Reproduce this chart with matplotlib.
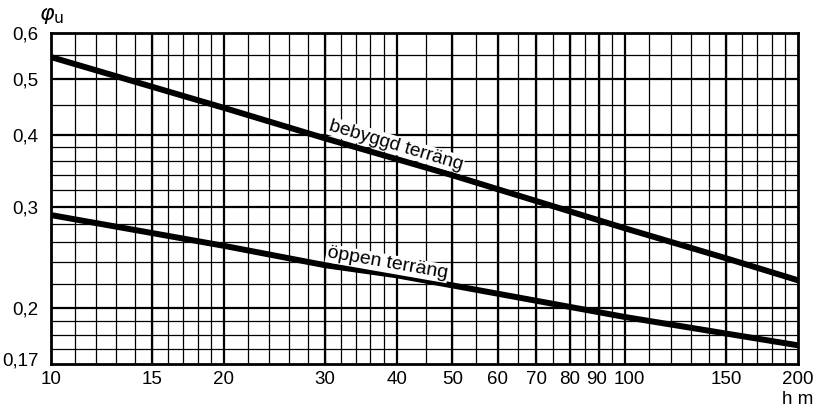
import matplotlib
matplotlib.use("Agg")
import matplotlib.pyplot as plt
from matplotlib.ticker import FixedLocator, NullFormatter, FixedFormatter
import matplotlib.transforms as mtransforms

# Data (h in m, phi_u)
h_vals = [10, 20, 30, 50, 100, 150, 200]
bebyggd = [0.545, 0.445, 0.394, 0.340, 0.275, 0.244, 0.2235]
oppen_h = [10, 20, 30, 40, 50, 100, 200]
oppen = [0.290, 0.2565, 0.2374, 0.228, 0.219, 0.193, 0.1724]

x_major = [10, 15, 20, 30, 40, 50, 60, 70, 80, 90, 100, 150, 200]
x_labels = ["10", "15", "20", "30", "40", "50", "60", "70", "80", "90", "100", "150", "200"]
x_minor = list(range(11, 20)) + list(range(22, 40, 2)) + list(range(45, 100, 5)) + list(range(110, 200, 10))
y_major = [0.17, 0.2, 0.3, 0.4, 0.5, 0.6]
y_labels = ["0,17", "0,2", "0,3", "0,4", "0,5", "0,6"]
y_minor = [0.18, 0.19, 0.22, 0.24, 0.26, 0.28, 0.32, 0.34, 0.36, 0.38, 0.45, 0.55]

plt.rcParams['font.family'] = ['Liberation Sans', 'DejaVu Sans']

fig = plt.figure(figsize=(8.23, 4.08), dpi=100)
ax = fig.add_axes([51/823, 1 - 364/408, (798-51)/823, (364-33)/408])
ax.set_xscale('log')
ax.set_yscale('log')
ax.set_xlim(10, 200)
ax.set_ylim(0.16, 0.6)

for v in x_minor:
    ax.axvline(v, color='black', lw=0.9, zorder=1)
for v in x_major[1:-1]:
    ax.axvline(v, color='black', lw=1.6, zorder=1)
for v in y_minor:
    ax.axhline(v, color='black', lw=0.9, zorder=1)
for v in [0.2, 0.3, 0.4, 0.5]:
    ax.axhline(v, color='black', lw=1.6, zorder=1)
ax.axhline(0.17, color='black', lw=0.9, zorder=1)

ax.plot(h_vals, bebyggd, color='black', lw=4.3, solid_capstyle='butt', zorder=3)
ax.plot(oppen_h, oppen, color='black', lw=4.3, solid_capstyle='butt', zorder=3)

box = dict(facecolor='white', edgecolor='none', pad=0.5)
ax.text(39.9, 0.383, "bebyggd terräng", rotation=-16.6, rotation_mode='anchor',
        ha='center', va='center', fontsize=13.8, bbox=box, zorder=4)
ax.text(38.5, 0.239, "öppen terräng", rotation=-9.9, rotation_mode='anchor',
        ha='center', va='center', fontsize=14, bbox=box, zorder=4)

for s in ax.spines.values():
    s.set_linewidth(2.0)
    s.set_zorder(5)

ax.xaxis.set_major_locator(FixedLocator(x_major))
ax.xaxis.set_major_formatter(FixedFormatter(x_labels))
ax.xaxis.set_minor_locator(FixedLocator([]))
ax.xaxis.set_minor_formatter(NullFormatter())
ax.yaxis.set_major_locator(FixedLocator(y_major))
ax.yaxis.set_major_formatter(FixedFormatter(y_labels))
ax.yaxis.set_minor_locator(FixedLocator([]))
ax.yaxis.set_minor_formatter(NullFormatter())
ax.tick_params(axis='both', length=0, labelsize=13.5)
ax.tick_params(axis='x', pad=5)
ax.tick_params(axis='y', pad=9)

fig.canvas.draw()
# the "0,17" label sits at the bottom edge in the original
ylabs = ax.yaxis.get_majorticklabels()
ylabs[0].set_transform(ylabs[0].get_transform() + mtransforms.ScaledTranslation(0, -10/100, fig.dpi_scale_trans))
# "90" and "100" are nudged apart in the original
xlabs = ax.xaxis.get_majorticklabels()
xlabs[9].set_transform(xlabs[9].get_transform() + mtransforms.ScaledTranslation(-2/100, 0, fig.dpi_scale_trans))
xlabs[10].set_transform(xlabs[10].get_transform() + mtransforms.ScaledTranslation(4/100, 0, fig.dpi_scale_trans))

fig.text(39/823, 1 - 16/408, r"$\varphi_{\mathrm{u}}$", fontsize=16, ha='left', va='center')
fig.text(813/823, 1 - 400/408, "h m", fontsize=13.5, ha='right', va='center')

fig.savefig("out.png", dpi=100)
